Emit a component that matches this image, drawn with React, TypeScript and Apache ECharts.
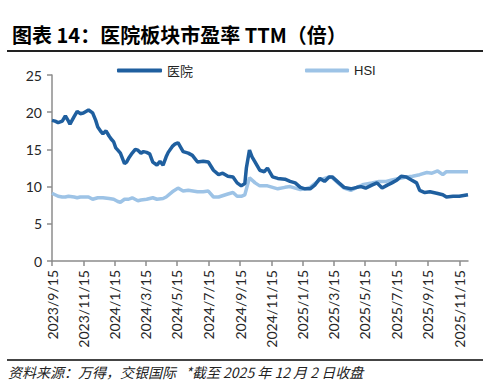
import React, { useEffect, useRef } from "react";
import * as echarts from "echarts";

const titleText = "图表 14：医院板块市盈率 TTM（倍）";
const sourceText = "资料来源：万得，交银国际   *截至 2025 年 12 月 2 日收盘";
const seriesNames = ["医院", "HSI"];
const tickLabels = [
  "2023/9/15", "2023/11/15", "2024/1/15", "2024/3/15", "2024/5/15", "2024/7/15", "2024/9/15",
  "2024/11/15", "2025/1/15", "2025/3/15", "2025/5/15", "2025/7/15", "2025/9/15", "2025/11/15",
];
const startDate = "2023/9/15";
const endDate = "2025/12/2";

const hospitalDates = [
  "2023/9/15", "2023/9/21", "2023/9/27", "2023/10/5", "2023/10/11", "2023/10/17", "2023/10/20", "2023/10/28",
  "2023/11/3", "2023/11/9", "2023/11/15", "2023/11/25", "2023/12/3", "2023/12/9", "2023/12/13", "2023/12/19",
  "2023/12/23", "2023/12/29", "2024/1/4", "2024/1/8", "2024/1/13", "2024/1/17", "2024/1/21", "2024/1/26",
  "2024/2/3", "2024/2/7", "2024/2/11", "2024/2/18", "2024/2/24", "2024/2/29", "2024/3/6", "2024/3/11",
  "2024/3/17", "2024/3/23", "2024/3/29", "2024/4/6", "2024/4/12", "2024/4/18", "2024/4/24", "2024/4/28",
  "2024/5/6", "2024/5/11", "2024/5/17", "2024/5/27", "2024/6/6", "2024/6/14", "2024/6/24", "2024/7/5",
  "2024/7/15", "2024/7/25", "2024/8/4", "2024/8/12", "2024/8/22", "2024/9/1", "2024/9/9", "2024/9/17",
  "2024/9/24", "2024/9/27", "2024/10/3", "2024/10/8", "2024/10/14", "2024/10/23", "2024/11/1", "2024/11/7",
  "2024/11/17", "2024/11/27", "2024/12/11", "2024/12/21", "2024/12/31", "2025/1/10", "2025/1/19", "2025/1/29",
  "2025/2/7", "2025/2/17", "2025/2/26", "2025/3/7", "2025/3/13", "2025/3/26", "2025/4/5", "2025/4/18",
  "2025/4/30", "2025/5/8", "2025/5/17", "2025/5/29", "2025/6/8", "2025/6/18", "2025/6/28", "2025/7/7",
  "2025/7/17", "2025/7/25", "2025/8/4", "2025/8/14", "2025/8/24", "2025/8/30", "2025/9/9", "2025/9/19",
  "2025/10/2", "2025/10/14", "2025/10/21", "2025/11/3", "2025/11/15", "2025/12/2",
];
const hospitalValues = [
  18.9, 18.8, 18.6, 18.8, 19.5, 18.8, 18.4, 19.4,
  20.1, 19.8, 19.9, 20.3, 19.9, 18.9, 18.0, 17.4,
  17.1, 17.5, 16.8, 16.4, 16.0, 15.2, 14.9, 14.5,
  13.1, 13.3, 13.8, 14.5, 15.0, 14.9, 14.5, 14.7,
  14.6, 14.4, 13.3, 12.9, 13.4, 12.9, 14.0, 14.6,
  15.4, 15.7, 15.9, 14.7, 14.5, 14.2, 13.3, 13.4,
  13.3, 12.2, 11.6, 11.8, 11.4, 11.3, 10.5, 10.1,
  10.4, 12.5, 14.9, 14.0, 13.3, 12.2, 12.0, 12.5,
  11.3, 11.1, 11.0, 10.7, 10.5, 9.9, 9.7, 9.7,
  10.2, 11.1, 10.7, 11.3, 11.3, 10.5, 9.9, 9.7,
  9.9, 10.0, 9.8, 10.2, 10.5, 9.8, 10.2, 10.5,
  10.9, 11.4, 11.3, 10.9, 10.5, 9.5, 9.2, 9.3,
  9.1, 8.9, 8.6, 8.7, 8.7, 8.9,
];

const hsiDates = [
  "2023/9/15", "2023/9/21", "2023/9/27", "2023/10/5", "2023/10/11", "2023/10/17", "2023/10/28", "2023/11/3",
  "2023/11/9", "2023/11/25", "2023/12/3", "2023/12/13", "2023/12/23", "2024/1/4", "2024/1/13", "2024/1/21",
  "2024/1/26", "2024/2/3", "2024/2/11", "2024/2/18", "2024/2/29", "2024/3/6", "2024/3/17", "2024/3/29",
  "2024/4/6", "2024/4/18", "2024/4/24", "2024/5/6", "2024/5/17", "2024/5/27", "2024/6/6", "2024/6/24",
  "2024/7/5", "2024/7/15", "2024/7/25", "2024/8/4", "2024/8/22", "2024/9/1", "2024/9/9", "2024/9/17",
  "2024/9/24", "2024/10/3", "2024/10/14", "2024/10/23", "2024/11/7", "2024/11/17", "2024/11/27", "2024/12/11",
  "2024/12/21", "2024/12/31", "2025/1/10", "2025/1/19", "2025/1/29", "2025/2/7", "2025/2/17", "2025/2/26",
  "2025/3/7", "2025/3/13", "2025/3/26", "2025/4/5", "2025/4/18", "2025/4/30", "2025/5/13", "2025/5/29",
  "2025/6/12", "2025/6/26", "2025/7/7", "2025/7/21", "2025/8/4", "2025/8/16", "2025/8/30", "2025/9/13",
  "2025/9/23", "2025/10/4", "2025/10/14", "2025/10/21", "2025/11/3", "2025/11/15", "2025/12/2",
];
const hsiValues = [
  9.1, 8.9, 8.7, 8.6, 8.6, 8.7, 8.6, 8.5,
  8.6, 8.6, 8.3, 8.5, 8.5, 8.4, 8.3, 8.0,
  7.9, 8.3, 8.3, 8.5, 8.1, 8.2, 8.3, 8.5,
  8.3, 8.4, 8.6, 9.3, 9.8, 9.4, 9.5, 9.3,
  9.3, 9.4, 8.6, 8.6, 9.0, 9.2, 8.7, 8.7,
  8.9, 11.2, 10.5, 10.1, 10.1, 9.9, 9.7, 9.9,
  10.0, 9.8, 9.6, 9.7, 9.9, 10.4, 10.9, 11.1,
  11.3, 11.2, 10.4, 9.8, 9.5, 9.9, 10.3, 10.5,
  10.7, 10.7, 10.9, 11.1, 11.3, 11.4, 11.6, 11.9,
  11.8, 12.1, 11.6, 12.0, 12.0, 12.0, 12.0,
];

function fmt(d: Date) {
  return `${d.getUTCFullYear()}/${d.getUTCMonth() + 1}/${d.getUTCDate()}`;
}
function parse(s: string) {
  const [y, m, d] = s.split("/").map(Number);
  return new Date(Date.UTC(y, m - 1, d));
}
function buildCategories() {
  const out: string[] = [];
  const end = parse(endDate).getTime();
  for (let t = parse(startDate).getTime(); t <= end; t += 86400000) out.push(fmt(new Date(t)));
  return out;
}

export default function App() {
  const ref = useRef<HTMLDivElement>(null);
  useEffect(() => {
    document.body.style.margin = "0";
    const chart = echarts.init(ref.current!, null, { renderer: "svg" });
    const categories = buildCategories();
    const isTick = (_i: number, v: string) => tickLabels.includes(v);
    const axisColor = "#8c8c8c";
    chart.setOption({
      animation: false,
      backgroundColor: "#ffffff",
      title: {
        text: titleText,
        left: 7,
        top: 19,
        textStyle: { fontSize: 20, fontWeight: "bold", color: "#000", fontFamily: "Noto Sans CJK SC" },
      },
      legend: [
        {
          data: [seriesNames[0]],
          left: 112,
          top: 59,
          icon: "roundRect",
          itemWidth: 45,
          itemHeight: 4,
          itemGap: 4,
          textStyle: { fontSize: 13, color: "#222", fontFamily: "Noto Sans CJK SC" },
        },
        {
          data: [seriesNames[1]],
          left: 300,
          top: 59,
          icon: "roundRect",
          itemWidth: 44,
          itemHeight: 4,
          textStyle: { fontSize: 13, color: "#222", fontFamily: "Liberation Sans Narrow, Liberation Sans" },
        },
      ],
      grid: { left: 52, right: 20, top: 75, bottom: 127 },
      xAxis: {
        type: "category",
        data: categories,
        boundaryGap: false,
        axisLine: { lineStyle: { color: axisColor, width: 1.5 } },
        axisTick: { show: true, interval: isTick, length: 5, lineStyle: { color: axisColor, width: 1.5 } },
        axisLabel: {
          interval: isTick,
          rotate: 90,
          margin: 9,
          fontSize: 14,
          fontFamily: "Lato",
          color: "#262626",
        },
        splitLine: { show: false },
      },
      yAxis: {
        type: "value",
        min: 0,
        max: 25,
        interval: 5,
        axisLine: { show: true, lineStyle: { color: axisColor, width: 1.5 } },
        axisTick: { show: true, length: 5, lineStyle: { color: axisColor, width: 1.5 } },
        axisLabel: { fontSize: 14, fontFamily: "Lato", color: "#262626", margin: 10 },
        splitLine: { show: false },
      },
      series: [
        {
          name: seriesNames[1],
          type: "line",
          data: hsiDates.map((d, i) => [d, hsiValues[i]]),
          showSymbol: false,
          symbol: "none",
          lineStyle: { color: "#9dc3e6", width: 3.5 },
          itemStyle: { color: "#9dc3e6" },
          z: 2,
        },
        {
          name: seriesNames[0],
          type: "line",
          data: hospitalDates.map((d, i) => [d, hospitalValues[i]]),
          showSymbol: false,
          symbol: "none",
          lineStyle: { color: "#1f5f9f", width: 3.5 },
          itemStyle: { color: "#1f5f9f" },
          z: 3,
        },
      ],
      graphic: [
        { type: "line", shape: { x1: 7, y1: 51, x2: 483, y2: 51 }, style: { stroke: "#222", lineWidth: 2 } },
        { type: "line", shape: { x1: 7, y1: 360, x2: 483, y2: 360 }, style: { stroke: "#444", lineWidth: 2 } },
        {
          type: "text",
          x: 8,
          y: 372,
          style: {
            text: sourceText,
            fontSize: 14,
            fontStyle: "italic",
            fontFamily: "Noto Sans CJK SC",
            fill: "#222",
            verticalAlign: "middle",
          },
        },
      ],
    });
    return () => chart.dispose();
  }, []);
  return <div ref={ref} style={{ width: 488, height: 388, position: "absolute", left: 0, top: 0 }} />;
}
